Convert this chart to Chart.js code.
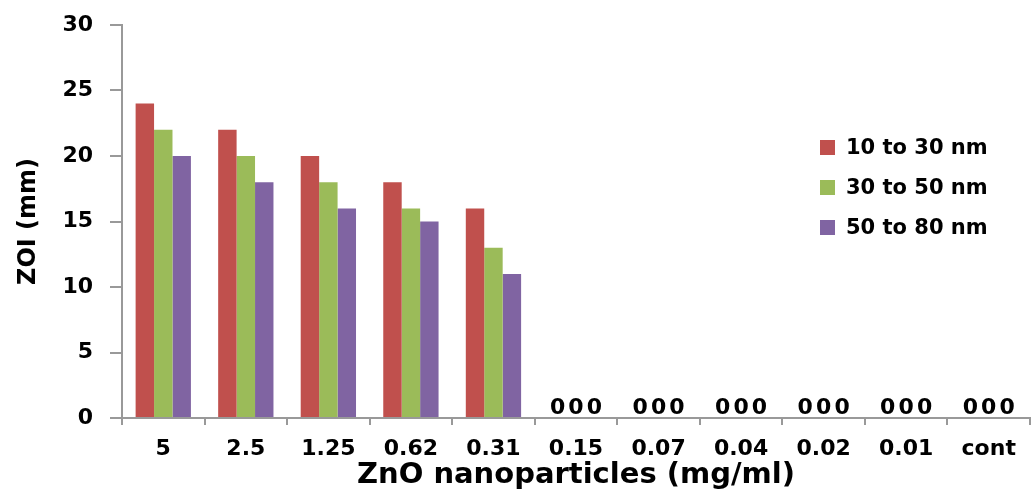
<!DOCTYPE html>
<html>
<head>
<meta charset="utf-8">
<script src="https://cdn.jsdelivr.net/npm/chart.js@4/dist/chart.umd.min.js"></script>
<style>
  html, body { margin: 0; padding: 0; background: #fff; }
  #wrap { position: relative; width: 1035px; height: 493px; }
  #legend { position: absolute; left: 820px; top: 127px; font: bold 21px "DejaVu Sans", Verdana, sans-serif; color: #000; }
  #legend div { height: 40px; display: flex; align-items: center; }
  #legend span.box { display: inline-block; width: 15px; height: 15px; margin-right: 11px; }
</style>
</head>
<body>
<div id="wrap">
  <canvas id="zoiChart" width="1035" height="493"></canvas>
  <div id="legend"></div>
</div>
<script>
var concentrations = ['5', '2.5', '1.25', '0.62', '0.31', '0.15', '0.07', '0.04', '0.02', '0.01', 'cont'];
var size10to30 = [24, 22, 20, 18, 16, 0, 0, 0, 0, 0, 0];
var size30to50 = [22, 20, 18, 16, 13, 0, 0, 0, 0, 0, 0];
var size50to80 = [20, 18, 16, 15, 11, 0, 0, 0, 0, 0, 0];
var seriesNames = ['10 to 30 nm', '30 to 50 nm', '50 to 80 nm'];
var seriesColors = ['#C0504D', '#9BBB59', '#8064A2'];

var font = '"DejaVu Sans", Verdana, sans-serif';

// write "0" over the bars that have no zone
var zeroLabels = {
    id: 'zeroLabels',
    afterDatasetsDraw: function(chart) {
        var ctx = chart.ctx;
        ctx.save();
        ctx.font = 'bold 22px ' + font;
        ctx.fillStyle = '#000';
        ctx.textAlign = 'center';
        ctx.textBaseline = 'alphabetic';
        chart.data.datasets.forEach(function(ds, i) {
            chart.getDatasetMeta(i).data.forEach(function(bar, j) {
                if (ds.data[j] === 0) {
                    ctx.fillText('0', bar.x, bar.y - 4);
                }
            });
        });
        ctx.restore();
    }
};

var datasets = [size10to30, size30to50, size50to80].map(function(vals, i) {
    return {
        label: seriesNames[i],
        data: vals,
        backgroundColor: seriesColors[i],
        borderWidth: 0,
        categoryPercentage: 0.67,
        barPercentage: 1.0
    };
});

var ctx = document.getElementById('zoiChart').getContext('2d');
var zoiChart = new Chart(ctx, {
    type: 'bar',
    data: { labels: concentrations, datasets: datasets },
    options: {
        responsive: false,
        animation: false,
        layout: { padding: { top: 25, right: 5, left: 14, bottom: 0 } },
        plugins: {
            legend: { display: false },
            tooltip: { enabled: false }
        },
        scales: {
            x: {
                afterFit: function(s) { s.height = 75; },
                grid: { display: true, drawOnChartArea: false, offset: true, tickLength: 7, color: '#999', lineWidth: 2 },
                border: { color: '#999', width: 2 },
                ticks: { color: '#000', font: { family: font, size: 22, weight: 'bold' }, padding: 11, maxRotation: 0, autoSkip: false },
                title: { display: true, text: 'ZnO nanoparticles (mg/ml)', color: '#000', font: { family: font, size: 29, weight: 'bold' }, padding: { top: 0, bottom: 0 } }
            },
            y: {
                min: 0,
                max: 30,
                afterFit: function(s) {
                    s.width = 108;
                    s.paddingTop = 0;
                    s.paddingBottom = 0;
                },
                grid: { display: true, drawOnChartArea: false, tickLength: 12, color: '#999', lineWidth: 2 },
                border: { color: '#999', width: 2 },
                ticks: { stepSize: 5, color: '#000', font: { family: font, size: 22, weight: 'bold' }, padding: 17 },
                title: { display: true, text: 'ZOI (mm)', color: '#000', font: { family: font, size: 24, weight: 'bold' }, padding: { top: 0, bottom: 0 } }
            }
        }
    },
    plugins: [zeroLabels]
});

var legendBox = document.getElementById('legend');
zoiChart.data.datasets.forEach(function(ds) {
    var row = document.createElement('div');
    row.innerHTML = '<span class="box" style="background:' + ds.backgroundColor + '"></span>' + ds.label;
    legendBox.appendChild(row);
});
</script>
</body>
</html>
